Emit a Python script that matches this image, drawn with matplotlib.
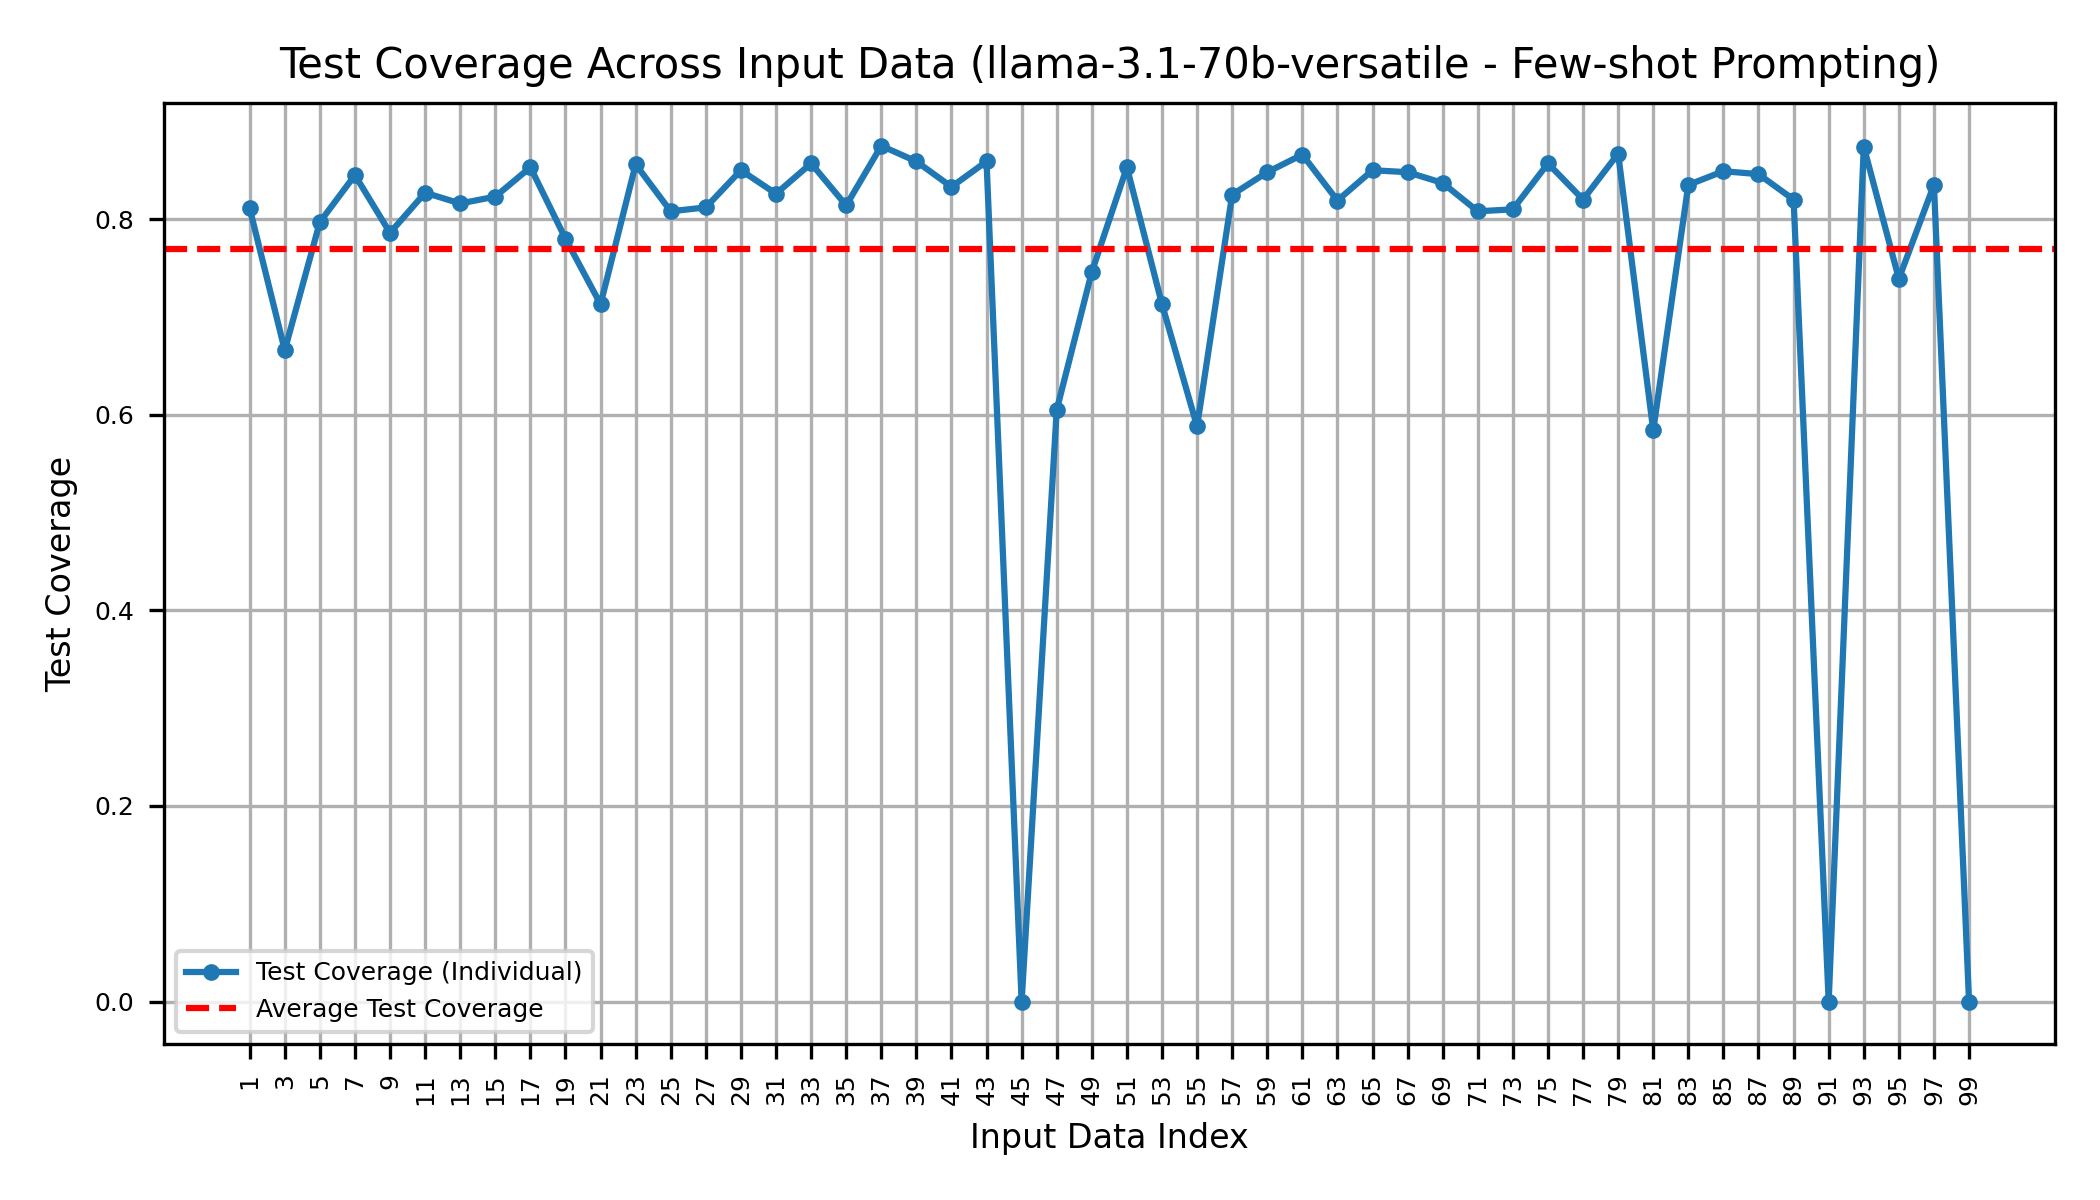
import matplotlib
matplotlib.use('Agg')
import matplotlib.pyplot as plt
import numpy as np

# input indices (odd values 1..99) and their coverage
indices = list(range(1, 100, 2))
coverage = [0.811, 0.666, 0.797, 0.845, 0.786, 0.827, 0.816, 0.823, 0.853, 0.780,
            0.713, 0.856, 0.808, 0.812, 0.850, 0.826, 0.857, 0.814, 0.875, 0.859,
            0.833, 0.859, 0.000, 0.605, 0.746, 0.853, 0.713, 0.588, 0.825, 0.848,
            0.866, 0.819, 0.850, 0.848, 0.837, 0.808, 0.810, 0.857, 0.820, 0.867,
            0.584, 0.835, 0.849, 0.846, 0.820, 0.000, 0.874, 0.739, 0.835, 0.000]
avg_coverage = 0.769

fig, ax = plt.subplots(figsize=(7, 4), dpi=300)
ax.plot(indices, coverage, marker='o', markersize=3, linewidth=1.5,
        color='#1f77b4', label='Test Coverage (Individual)')
ax.axhline(avg_coverage, color='red', linestyle='--', linewidth=1.5,
           label='Average Test Coverage')

ax.set_title('Test Coverage Across Input Data (llama-3.1-70b-versatile - Few-shot Prompting)',
             fontsize=10)
ax.set_xlabel('Input Data Index', fontsize=8)
ax.set_ylabel('Test Coverage', fontsize=8)
ax.set_xticks(indices)
ax.tick_params(axis='x', labelrotation=90, labelsize=6)
ax.tick_params(axis='y', labelsize=6)
ax.grid(True)
ax.legend(fontsize=6, loc='lower left')

plt.tight_layout()
plt.savefig('out.png', dpi=300)
